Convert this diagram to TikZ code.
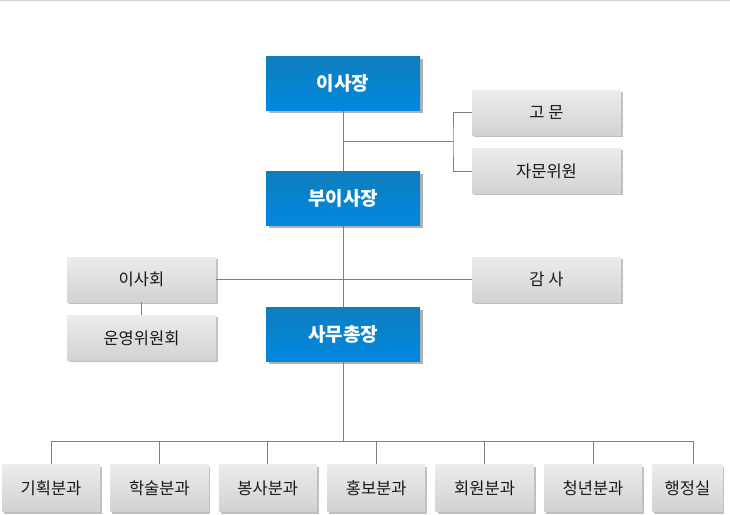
\documentclass[tikz,border=0pt]{standalone}
\usepackage{fontspec}
\setmainfont{Noto Sans CJK KR}
\usepackage{xcolor}
\usepackage{tikz}
\usetikzlibrary{positioning, calc, shadows}

\definecolor{headtop}{RGB}{16,126,190}
\definecolor{headbot}{RGB}{0,136,222}
\definecolor{unittop}{RGB}{236,236,236}
\definecolor{unitbot}{RGB}{210,210,210}
\definecolor{linkgray}{RGB}{128,128,128}

\begin{document}
\begin{tikzpicture}[
  x=1pt, y=-1pt,
  node distance=13pt,
  every node/.style={inner sep=0pt},
  headbox/.style={
    top color=headtop, bottom color=headbot, draw=none,
    minimum width=154pt, minimum height=54pt,
    text=white, font=\fontsize{19}{22}\selectfont\bfseries,
    drop shadow={shadow xshift=2.5pt, shadow yshift=-2.5pt, fill=black, opacity=0.3}
  },
  unitbox/.style={
    top color=unittop, bottom color=unitbot, draw=none,
    minimum width=149pt, minimum height=45pt,
    text=black!90, font=\fontsize{16.5}{19}\selectfont,
    drop shadow={shadow xshift=2pt, shadow yshift=-2pt, fill=black, opacity=0.25}
  },
  deptbox/.style={unitbox, minimum width=98pt, minimum height=47pt},
  link/.style={draw=linkgray, line width=0.8pt},
]
\useasboundingbox (0,0) rectangle (730,514);
\draw[black!18, line width=1.2pt] (0,0.6) -- (730,0.6);

% chain of command
\node[headbox] (chair) at (343,83.5) {이사장};
\node[headbox] (vice) at (343,198.5) {부이사장};
\node[headbox] (secgen) at (343,334) {사무총장};

% advisers
\node[unitbox] (advisor) at (546.5,112.5) {고 문};
\node[unitbox, below=13pt of advisor] (council) {자문위원};

% board and audit
\node[unitbox] (board) at (141.5,279.5) {이사회};
\node[unitbox, below=13pt of board] (steering) {운영위원회};
\node[unitbox] (audit) at (546.5,279.5) {감 사};

% departments
\node[deptbox] (plan) at (51,488) {기획분과};
\node[deptbox, right=10pt of plan] (acad) {학술분과};
\node[deptbox, right=10pt of acad] (serve) {봉사분과};
\node[deptbox, right=10pt of serve] (promo) {홍보분과};
\node[deptbox, right=10pt of promo] (member) {회원분과};
\node[deptbox, right=10pt of member] (youth) {청년분과};
\node[deptbox, minimum width=70pt, right=10pt of youth] (admin) {행정실};

% connectors
\coordinate (brk) at (453,141);
\coordinate (bus) at (343,441);
\draw[link] (chair.south) -- (vice.north);
\draw[link] (vice.south) -- (secgen.north);
\draw[link] (chair.south |- brk) -- (brk);
\draw[link] (advisor.west) -| (brk) |- (council.west);
\draw[link] (board.east) -- (audit.west);
\draw[link] (board.south) -- (steering.north);
\draw[link] (secgen.south) -- (bus);
\foreach \d in {plan, acad, serve, promo, member, youth}
  \draw[link] (bus) -| (\d.north);
\draw[link] (bus) -| ([xshift=6pt]admin.north);

\end{tikzpicture}
\end{document}
